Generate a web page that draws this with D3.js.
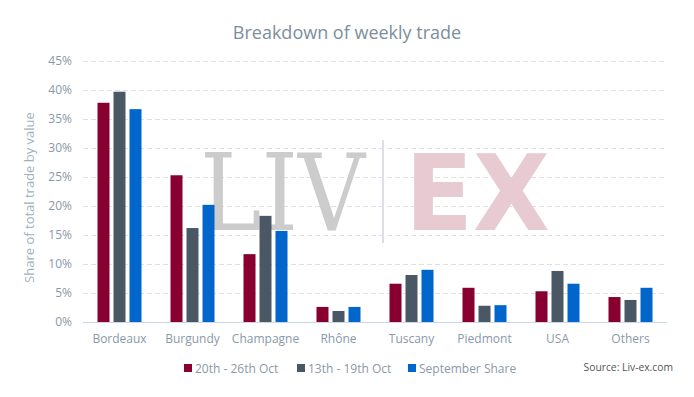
<!DOCTYPE html>
<html>
<head>
<meta charset="utf-8">
<script src="https://cdn.jsdelivr.net/npm/d3@7"></script>
<style>
  html, body { margin: 0; padding: 0; background: #fff; }
  svg { display: block; font-family: "Open Sans", sans-serif; }
</style>
</head>
<body>
<div id="chart"></div>
<script>
const categories = ['Bordeaux', 'Burgundy', 'Champagne', 'Rhône', 'Tuscany', 'Piedmont', 'USA', 'Others'];
const seriesNames = ['20th - 26th Oct', '13th - 19th Oct', 'September Share'];
const seriesColors = ['#870030', '#4a5866', '#0066cc'];
const week2026 = [37.8, 25.3, 11.7, 2.6, 6.6, 5.9, 5.3, 4.3];
const week1319 = [39.7, 16.2, 18.3, 1.9, 8.1, 2.8, 8.8, 3.8];
const september = [36.7, 20.2, 15.7, 2.6, 9.0, 2.9, 6.6, 5.9];
const yTicks = [0, 5, 10, 15, 20, 25, 30, 35, 40, 45];

const W = 694, H = 397;
const margin = { top: 61, right: 27, bottom: 75, left: 83 };
const width = W - margin.left - margin.right;
const height = H - margin.top - margin.bottom;
const textGrey = '#8a99a8';

const svg = d3.select('#chart').append('svg')
  .attr('width', W)
  .attr('height', H);

// Title
svg.append('text')
  .attr('x', W / 2)
  .attr('y', 39)
  .attr('text-anchor', 'middle')
  .style('font-size', '18px')
  .style('fill', '#7d8e9e')
  .text('Breakdown of weekly trade');

const g = svg.append('g')
  .attr('transform', `translate(${margin.left},${margin.top})`);

const x = d3.scaleBand().domain(categories).range([0, width]).padding(0);
const xInner = d3.scaleBand().domain(seriesNames)
  .range([14.5, x.bandwidth() - 14.5])
  .paddingInner(0.25).paddingOuter(0);
const y = d3.scaleLinear().domain([0, 45]).range([height, 0]);

// Gridlines
g.append('g')
  .selectAll('line')
  .data(yTicks.filter(d => d > 0))
  .join('line')
  .attr('x1', 0)
  .attr('x2', width)
  .attr('y1', d => Math.round(y(d)) + 0.5)
  .attr('y2', d => Math.round(y(d)) + 0.5)
  .attr('stroke', '#e0e0e0')
  .attr('stroke-dasharray', '5,3');

// Watermark
const wm = g.append('g');
wm.append('text')
  .attr('x', 200 - margin.left)
  .attr('y', 230 - margin.top)
  .attr('textLength', 165)
  .attr('lengthAdjust', 'spacingAndGlyphs')
  .style('font-family', '"DejaVu Serif", "Liberation Serif", serif')
  .style('font-size', '106px')
  .style('fill', '#cccccc')
  .text('LIV');
wm.append('line')
  .attr('x1', 383 - margin.left).attr('x2', 383 - margin.left)
  .attr('y1', 140 - margin.top).attr('y2', 243 - margin.top)
  .attr('stroke', '#dcdfe3')
  .attr('stroke-width', 2);
wm.append('text')
  .attr('x', 405 - margin.left)
  .attr('y', 230 - margin.top)
  .attr('textLength', 145)
  .attr('lengthAdjust', 'spacingAndGlyphs')
  .style('font-family', '"DejaVu Sans", sans-serif')
  .style('font-weight', 'bold')
  .style('font-size', '106px')
  .style('fill', '#e8cad3')
  .text('EX');

// Bars
const seriesData = [week2026, week1319, september];
seriesNames.forEach((name, si) => {
  g.append('g')
    .selectAll('rect')
    .data(categories.map((c, i) => ({ cat: c, value: seriesData[si][i] })))
    .join('rect')
    .attr('x', d => x(d.cat) + xInner(name))
    .attr('y', d => y(d.value))
    .attr('width', xInner.bandwidth())
    .attr('height', d => height - y(d.value))
    .attr('fill', seriesColors[si]);
});

// Baseline
g.append('line')
  .attr('x1', 0).attr('x2', width)
  .attr('y1', height + 0.5).attr('y2', height + 0.5)
  .attr('stroke', '#ccd6eb');

// Y axis
const yAxis = g.append('g')
  .call(d3.axisLeft(y).tickValues(yTicks).tickFormat(d => d + '%').tickSize(0).tickPadding(11));
yAxis.select('.domain').remove();
yAxis.selectAll('text')
  .style('font-family', '"Open Sans", sans-serif')
  .style('font-size', '12px')
  .style('fill', textGrey);

// X axis
const xAxis = g.append('g')
  .attr('transform', `translate(0,${height})`)
  .call(d3.axisBottom(x).tickSize(0).tickPadding(12));
xAxis.select('.domain').remove();
xAxis.selectAll('text')
  .style('font-family', '"Open Sans", sans-serif')
  .style('font-size', '12px')
  .style('fill', textGrey);

// Y axis title
svg.append('text')
  .attr('transform', `translate(34,${margin.top + height / 2 + 6}) rotate(-90)`)
  .attr('text-anchor', 'middle')
  .style('font-size', '13px')
  .style('fill', '#a3b0bc')
  .text('Share of total trade by value');

// Legend
const legendX = [184, 297, 408];
const legend = svg.append('g').attr('transform', 'translate(0,368)');
seriesNames.forEach((name, i) => {
  const item = legend.append('g').attr('transform', `translate(${legendX[i]},0)`);
  item.append('rect')
    .attr('x', 0).attr('y', -4)
    .attr('width', 8).attr('height', 8)
    .attr('fill', seriesColors[i]);
  item.append('text')
    .attr('x', 11).attr('y', 4.5)
    .style('font-size', '12px')
    .style('fill', textGrey)
    .text(name);
});

// Source
svg.append('text')
  .attr('x', 673)
  .attr('y', 371)
  .attr('text-anchor', 'end')
  .style('font-size', '10.3px')
  .style('fill', '#555')
  .text('Source: Liv-ex.com');
</script>
</body>
</html>
